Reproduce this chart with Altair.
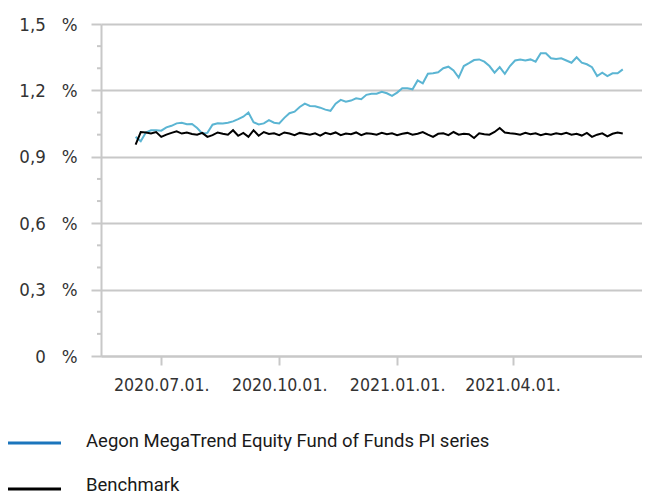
import altair as alt
import pandas as pd

# ---- data ----
start_date = "2020-06-11"
step_days = 4
fund = [0.99, 0.97, 1.01, 1.02, 1.02, 1.018, 1.033, 1.04, 1.051, 1.054,
        1.047, 1.048, 1.03, 1.006, 1.008, 1.045, 1.051, 1.05, 1.054, 1.06,
        1.07, 1.081, 1.10, 1.056, 1.046, 1.051, 1.066, 1.054, 1.051, 1.076,
        1.097, 1.104, 1.125, 1.14, 1.13, 1.128, 1.122, 1.113, 1.108, 1.14,
        1.157, 1.149, 1.154, 1.164, 1.16, 1.18, 1.185, 1.185, 1.194, 1.187,
        1.175, 1.19, 1.21, 1.21, 1.205, 1.245, 1.232, 1.275, 1.278, 1.282,
        1.30, 1.307, 1.29, 1.258, 1.31, 1.323, 1.337, 1.34, 1.33, 1.31,
        1.28, 1.305, 1.275, 1.31, 1.335, 1.34, 1.335, 1.34, 1.33, 1.368,
        1.368, 1.345, 1.342, 1.345, 1.335, 1.325, 1.35, 1.325, 1.318, 1.305,
        1.265, 1.28, 1.265, 1.277, 1.277, 1.295]
bench = [0.955, 1.012, 1.01, 1.005, 1.012, 0.99, 1.0, 1.008, 1.015, 1.005,
         1.01, 1.003, 1.0, 1.008, 0.99, 0.998, 1.01, 1.004, 1.0, 1.02,
         0.995, 1.008, 0.99, 1.02, 0.995, 1.012, 1.003, 1.006, 0.998, 1.01,
         1.005, 0.998, 1.008, 1.004, 1.0, 1.006, 0.996, 1.008, 1.002, 1.01,
         0.998, 1.005, 1.002, 1.01, 0.998, 1.006, 1.004, 1.0, 1.008, 1.002,
         1.006, 0.998, 1.004, 1.008, 1.0, 1.004, 1.012, 1.0, 0.99, 1.004,
         1.006, 0.998, 1.012, 1.0, 1.004, 1.002, 0.985, 1.006, 1.002, 1.0,
         1.012, 1.03, 1.01, 1.006, 1.004, 1.0, 1.008, 1.002, 1.006, 0.998,
         1.004, 1.0, 1.006, 1.002, 1.008, 1.0, 1.004, 0.996, 1.008, 0.99,
         1.0, 1.006, 0.992, 1.004, 1.01, 1.005]

series_names = ["Aegon MegaTrend Equity Fund of Funds PI series", "Benchmark"]
line_colors = ["#5bb5d3", "#000000"]
legend_colors = ["#1b75bc", "#000000"]

y_major = [0, 0.3, 0.6, 0.9, 1.2, 1.5]
y_minor = [0.1, 0.2, 0.4, 0.5, 0.7, 0.8, 1.0, 1.1, 1.3, 1.4]
x_ticks = ["2020-07-01", "2020-10-01", "2021-01-01", "2021-04-01"]
x_domain = ["2020-05-15", "2021-07-11"]

# ---- build tables ----
dates = pd.date_range(start_date, periods=len(fund), freq=f"{step_days}D")
df = pd.concat([
    pd.DataFrame({"date": dates, "value": fund, "series": series_names[0]}),
    pd.DataFrame({"date": dates, "value": bench, "series": series_names[1]}),
])
minor_df = pd.DataFrame({"value": y_minor})
legend_df = pd.DataFrame({"label": series_names, "color": legend_colors})


def dt(s):
    y, m, d = (int(p) for p in s.split("-"))
    return alt.DateTime(year=y, month=m, date=d)


GRID = "#c8c8c8"
AXFONT = "DejaVu Sans Condensed, DejaVu Sans"

x_enc = alt.X(
    "date:T",
    scale=alt.Scale(domain=[dt(d) for d in x_domain], nice=False),
    axis=alt.Axis(
        values=[dt(d) for d in x_ticks], format="%Y.%m.%d.", title=None,
        grid=False, tickSize=9, tickWidth=2, tickColor=GRID,
        domainColor=GRID, domainWidth=2, labelPadding=11,
        labelFont=AXFONT, labelFontSize=17.6, labelColor="#333333",
    ),
)
y_enc = alt.Y(
    "value:Q",
    scale=alt.Scale(domain=[0, 1.5], nice=False, zero=True),
    axis=alt.Axis(
        values=y_major, title=None, grid=True, gridColor=GRID, gridWidth=2,
        tickSize=10, tickWidth=2, tickColor=GRID, domainColor=GRID,
        domainWidth=2, labelPadding=14, labelFont=AXFONT, labelFontSize=18.5,
        labelColor="#333333",
        labelExpr="(datum.value == 0 ? '0' : replace(format(datum.value, '.1f'), '.', ',')) + '\u00a0\u00a0\u00a0%'",
    ),
)

layers = []
for name, col in zip(series_names, line_colors):
    layers.append(
        alt.Chart(df).transform_filter(alt.datum.series == name)
        .mark_line(strokeWidth=2, color=col)
        .encode(x=x_enc, y=y_enc)
    )

minor = alt.Chart(minor_df).mark_rule(color=GRID, strokeWidth=2).encode(
    x=alt.value(-4), x2=alt.value(0), y=y_enc
)
layers.insert(0, minor)

legend_rule_y = [419, 465]
legend_text_y = [417, 461]
for i in range(len(series_names)):
    base = alt.Chart(legend_df).transform_filter(alt.datum.label == series_names[i])
    layers.append(base.mark_rule(strokeWidth=3, color=legend_colors[i]).encode(
        x=alt.value(-94), x2=alt.value(-40), y=alt.value(legend_rule_y[i])))
    layers.append(base.mark_text(align="left", baseline="middle", font="Roboto",
                                 fontSize=18.5, color="#1a1a1a").encode(
        x=alt.value(-15), y=alt.value(legend_text_y[i]), text="label:N"))

chart = alt.layer(*layers).properties(
    width=541, height=332,
    autosize=alt.AutoSizeParams(type="none"),
    padding={"left": 93, "top": 16, "right": 0, "bottom": 140},
).configure_view(stroke=None)

chart.save("out.html", embed_options={"renderer": "svg", "actions": False})
